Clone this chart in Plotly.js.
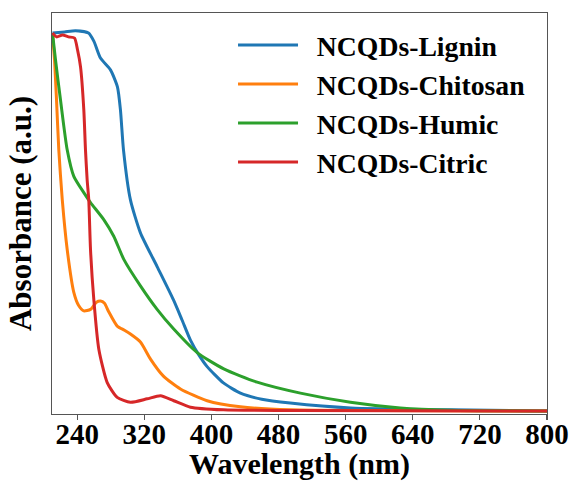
<!DOCTYPE html>
<html>
<head>
<meta charset="utf-8">
<script src="https://cdn.plot.ly/plotly-3.0.1.min.js"></script>
<style>html,body{margin:0;padding:0;background:#fff;}#chart{width:574px;height:481px;}</style>
</head>
<body>
<div id="chart"></div>
<script>
// Wavelength (nm) and normalized absorbance
const ligninX = [210.6, 225, 238, 253.5, 260, 267.8, 279.7, 288, 291.6, 295.2, 303.5, 315.4, 335.3, 354.8, 365, 375, 385, 394.9, 414.3, 434.6, 460, 494, 566, 685, 800];
const ligninY = [0.997, 1.0, 1.003, 0.997, 0.975, 0.931, 0.90, 0.855, 0.794, 0.689, 0.557, 0.470, 0.381, 0.293, 0.24, 0.187, 0.148, 0.117, 0.074, 0.047, 0.031, 0.021, 0.008, 0.003, 0.0];

const chitosanX = [210.6, 213, 215.4, 218.1, 222.2, 228.1, 236, 241.6, 247.9, 255.9, 263, 267.8, 272.6, 277.3, 287.7, 296.4, 303.5, 315.4, 327.4, 342.8, 363.1, 394.9, 434.6, 494, 600, 800];
const chitosanY = [0.997, 0.926, 0.82, 0.689, 0.558, 0.426, 0.313, 0.279, 0.264, 0.268, 0.287, 0.29, 0.284, 0.263, 0.224, 0.213, 0.203, 0.182, 0.137, 0.092, 0.058, 0.027, 0.011, 0.003, 0.001, 0.0];

const humicX = [210.6, 214.2, 220.1, 228.1, 236, 247.9, 255.9, 271.7, 283.6, 295.6, 315.4, 335.3, 355.1, 383, 414.7, 454.5, 506.1, 565.7, 625.2, 684.8, 800];
const humicY = [0.997, 0.926, 0.821, 0.689, 0.619, 0.576, 0.55, 0.505, 0.461, 0.40, 0.33, 0.268, 0.216, 0.154, 0.111, 0.076, 0.047, 0.023, 0.008, 0.002, 0.0];

const citricX = [210.6, 215.4, 222.5, 229.7, 236.8, 240.4, 244, 247.9, 249.9, 251.9, 253.8, 255.9, 259.8, 265.8, 275.8, 287.7, 303.5, 323.4, 339.3, 355.1, 375, 414.3, 500, 800];
const citricY = [0.997, 0.987, 0.992, 0.987, 0.984, 0.953, 0.908, 0.795, 0.689, 0.61, 0.558, 0.426, 0.295, 0.163, 0.075, 0.036, 0.023, 0.032, 0.040, 0.027, 0.010, 0.003, 0.001, 0.0];

const seriesNames = ['NCQDs-Lignin', 'NCQDs-Chitosan', 'NCQDs-Humic', 'NCQDs-Citric'];
const seriesColors = ['#1f77b4', '#ff7f0e', '#2ca02c', '#d62728'];
const xTicks = [240, 320, 400, 480, 560, 640, 720, 800];

const xs = [ligninX, chitosanX, humicX, citricX];
const ys = [ligninY, chitosanY, humicY, citricY];

const FONT = 'Liberation Serif, Times New Roman, serif';
const GAP = '\u00A0\u00A0';

const traces = seriesNames.map((n, i) => ({
  x: xs[i], y: ys[i], name: GAP + n, type: 'scatter', mode: 'lines',
  line: {color: seriesColors[i], width: 3, shape: 'spline', smoothing: 0.6}
}));

const layout = {
  width: 574, height: 481,
  margin: {l: 52, r: 27, t: 13, b: 67},
  paper_bgcolor: '#fff', plot_bgcolor: '#fff',
  showlegend: true,
  legend: {
    x: 0.3657, xanchor: 'left', y: 0.9813, yanchor: 'top',
    bgcolor: 'rgba(0,0,0,0)', borderwidth: 0,
    font: {family: FONT, size: 27.7, color: '#000', weight: 'bold'},
    itemwidth: 60, tracegroupgap: 0
  },
  xaxis: {
    range: [210, 800], tickvals: xTicks, ticktext: xTicks.map(String),
    ticks: 'outside', ticklen: 5, tickwidth: 1.2, tickcolor: '#555',
    ticklabelstandoff: -11,
    showline: true, linecolor: '#555', linewidth: 1.2, mirror: true,
    showgrid: false, zeroline: false,
    tickfont: {family: FONT, size: 29, color: '#000', weight: 'bold'},
    title: {text: 'Wavelength (nm)', font: {family: FONT, size: 30, color: '#000', weight: 'bold'}, standoff: 2}
  },
  yaxis: {
    range: [-0.008, 1.05], showticklabels: false, ticks: '',
    showline: true, linecolor: '#555', linewidth: 1.2, mirror: true,
    showgrid: false, zeroline: false,
    title: {text: 'Absorbance (a.u.)', font: {family: FONT, size: 31, color: '#000', weight: 'bold'}, standoff: 10}
  }
};

Plotly.newPlot('chart', traces, layout, {displayModeBar: false, staticPlot: true});
</script>
</body>
</html>
